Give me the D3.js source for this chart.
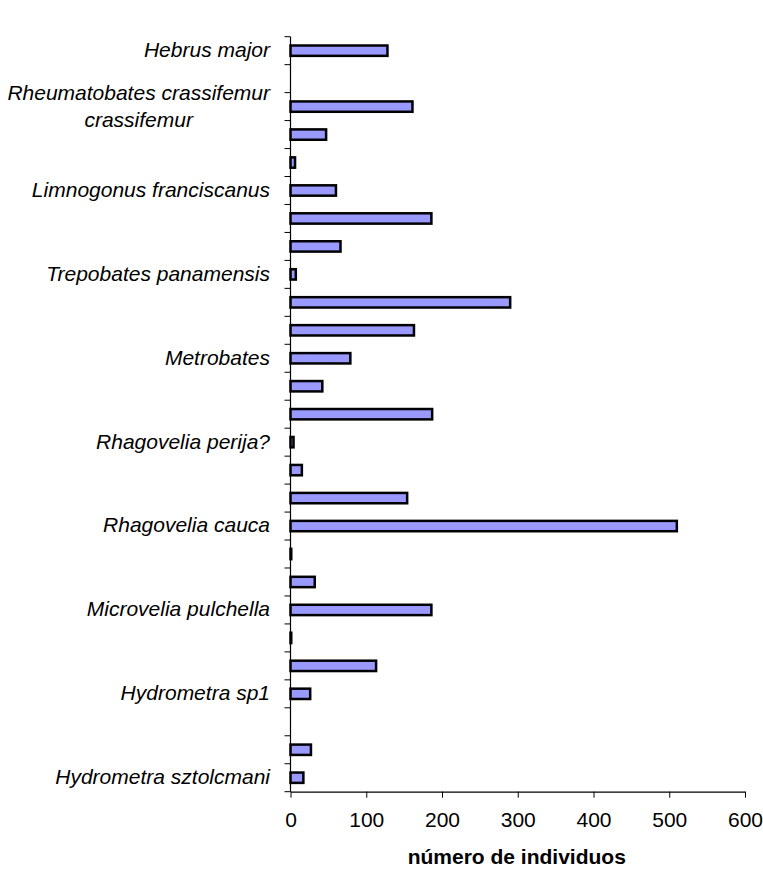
<!DOCTYPE html>
<html>
<head>
<meta charset="utf-8">
<script src="https://cdn.jsdelivr.net/npm/d3@7"></script>
<style>
  html, body { margin: 0; padding: 0; background: #fff; }
  svg { display: block; }
  text { font-family: "Liberation Sans", Arial, sans-serif; fill: #000; }
</style>
</head>
<body>
<div id="chart"></div>
<script>
// Categories listed top to bottom; "" = category without a visible label
const categories = [
  "Hebrus major", "", "Rheumatobates crassifemur|crassifemur", "", "", "Limnogonus franciscanus",
  "", "", "Trepobates panamensis", "", "", "Metrobates",
  "", "", "Rhagovelia perija?", "", "", "Rhagovelia cauca",
  "", "", "Microvelia pulchella", "", "", "Hydrometra sp1",
  "", "", "Hydrometra sztolcmani"
];
const values = [
  128, 0, 161, 47, 6, 60,
  186, 66, 7, 290, 163, 79,
  42, 187, 4, 15, 154, 510,
  1, 32, 186, 1, 113, 26,
  0, 27, 17
];
const xTicks = [0, 100, 200, 300, 400, 500, 600];
const xTitle = "número de individuos";

const W = 763, H = 869;
const pLeft = 290.5, pRight = 745, pTop = 36.7, pBottom = 791.7;

const svg = d3.select("#chart").append("svg").attr("width", W).attr("height", H);

const idx = categories.map((d, i) => i);
const x = d3.scaleLinear().domain([0, 600]).range([pLeft, pRight]);
const y = d3.scaleBand().domain(idx).range([pTop, pBottom]).paddingInner(0.63).paddingOuter(0.315);
const yb = d3.scaleBand().domain(idx).range([pTop, pBottom]);

// bars
svg.append("g").selectAll("rect")
  .data(values.map((v, i) => ({v, i})).filter(d => d.v > 0))
  .join("rect")
  .attr("x", x(0))
  .attr("y", d => y(d.i))
  .attr("width", d => x(d.v) - x(0))
  .attr("height", y.bandwidth())
  .attr("fill", "#9999FF")
  .attr("stroke", "#000")
  .attr("stroke-width", 2.5);

// x axis
const xAxis = svg.append("g")
  .attr("transform", `translate(0,${pBottom})`)
  .call(d3.axisBottom(x).tickValues(xTicks).tickSize(6).tickPadding(14).tickSizeOuter(0));
xAxis.select(".domain").attr("stroke", "#000").attr("stroke-width", 1.2);
xAxis.selectAll(".tick line").attr("stroke", "#000");
xAxis.selectAll("text").style("font-size", "21px").style("font-family", "'Liberation Sans', Arial, sans-serif");

// y axis (line + boundary ticks)
const yAxis = svg.append("g").attr("transform", `translate(${pLeft},0)`);
yAxis.append("line").attr("x1", 0).attr("x2", 0).attr("y1", pTop).attr("y2", pBottom)
  .attr("stroke", "#000").attr("stroke-width", 1.2);
const bounds = idx.map(i => yb(i)).concat([pBottom]);
yAxis.selectAll("line.tk").data(bounds).join("line").attr("class", "tk")
  .attr("x1", -6).attr("x2", 0).attr("y1", d => d).attr("y2", d => d)
  .attr("stroke", "#000").attr("stroke-width", 1);

// category labels
const labelX = 270;
categories.forEach((c, i) => {
  if (!c) return;
  const cy = yb(i) + yb.bandwidth() / 2;
  const parts = c.split("|");
  if (parts.length === 1) {
    svg.append("text").attr("x", labelX).attr("y", cy - 1).attr("dy", "0.35em")
      .attr("text-anchor", "end").style("font-size", "21px").style("font-style", "italic")
      .text(parts[0]);
  } else {
    const t1 = svg.append("text").attr("x", labelX).attr("y", cy - 14).attr("dy", "0.35em")
      .attr("text-anchor", "end").style("font-size", "21px").style("font-style", "italic")
      .text(parts[0]);
    const w1 = t1.node().getComputedTextLength();
    svg.append("text").attr("x", labelX - w1 / 2).attr("y", cy + 13).attr("dy", "0.35em")
      .attr("text-anchor", "middle").style("font-size", "21px").style("font-style", "italic")
      .text(parts[1]);
  }
});

// x title
svg.append("text").attr("x", (pLeft + pRight) / 2 - 1).attr("y", 864)
  .attr("text-anchor", "middle").style("font-size", "21px").style("font-weight", "bold")
  .text(xTitle);
</script>
</body>
</html>
